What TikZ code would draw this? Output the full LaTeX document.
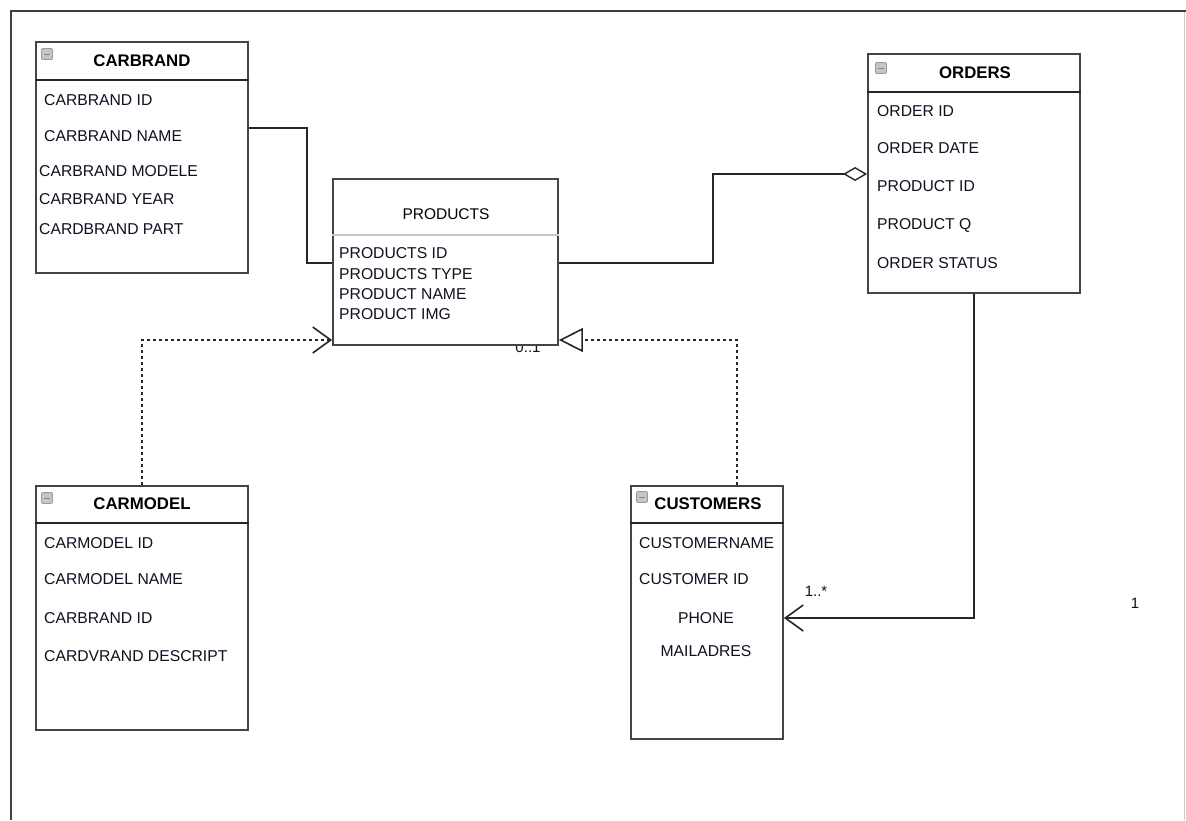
\documentclass[tikz,border=0pt]{standalone}
\usepackage{fontspec}
\setmainfont{Liberation Sans}
\usetikzlibrary{arrows.meta}
\definecolor{boxc}{HTML}{444444}
\definecolor{txt}{HTML}{101020}
\begin{document}
\begin{tikzpicture}[x=1pt,y=-1pt,
  ent/.style={draw=boxc, line width=1.8pt, fill=white, inner sep=0pt},
  attr/.style={anchor=west, inner sep=0pt, text=txt, font=\fontsize{15.7}{18}\selectfont},
  ttl/.style={inner sep=0pt, text=black, font=\bfseries\fontsize{16.8}{19}\selectfont},
  ptl/.style={inner sep=0pt, text=black, font=\fontsize{15.5}{18}\selectfont},
  icon/.style={draw=gray!80, fill=gray!45, minimum size=11pt, inner sep=0pt, rounded corners=1.2pt, line width=0.7pt},
  divider/.style={line width=1.6pt, draw=black!85},
  conn/.style={line width=1.6pt, draw=black!85},
  dots/.style={conn, dash pattern=on 3pt off 3pt},
  lbl/.style={inner sep=0pt, text=txt, font=\fontsize{15}{17}\selectfont}
]
\useasboundingbox (0,0) rectangle (1186,820);
\fill[white] (0,0) rectangle (1186,820);
% frame
\draw[gray!40, line width=1.5pt] (1184.5,11) -- (1184.5,820);
\draw[black!75, line width=2pt] (11,820) -- (11,11) -- (1186,11);

% labels under boxes
\node[lbl] (l01) at (528,347) {0..1};
\node[lbl] (l1s) at (816,591) {1..*};
\node[lbl] (lone) at (1135,603) {1};

% entities
\node[ent, minimum width=212pt, minimum height=231pt] (carbrand) at (142,157.5) {};
\node[ent, minimum width=225pt, minimum height=166pt] (products) at (445.5,262) {};
\node[ent, minimum width=212pt, minimum height=239pt] (orders) at (974,173.5) {};
\node[ent, minimum width=212pt, minimum height=244pt] (carmodel) at (142,608) {};
\node[ent, minimum width=152pt, minimum height=253pt] (customers) at (707,612.5) {};

% dividers
\draw[divider] (carbrand.west |- 0,80) -- (carbrand.east |- 0,80);
\draw[gray!45, line width=1.6pt] (products.west |- 0,235) -- (products.east |- 0,235);
\draw[divider] (orders.west |- 0,92) -- (orders.east |- 0,92);
\draw[divider] (carmodel.west |- 0,523) -- (carmodel.east |- 0,523);
\draw[divider] (customers.west |- 0,523) -- (customers.east |- 0,523);

% icons
\foreach \n/\x/\y in {icb/47/54, ior/881/68, icm/47/498, icu/642/497}{
  \node[icon] (\n) at (\x,\y) {};
  \draw[gray!95, line width=0.9pt] ([xshift=-3pt]\n.center) -- ([xshift=3pt]\n.center);
}

% titles
\node[ttl] (tcb) at (142,61) {CARBRAND};
\node[ptl] (tpr) at (446,214) {PRODUCTS};
\node[ttl] (tor) at (975,73) {ORDERS};
\node[ttl] (tcm) at (142,504) {CARMODEL};
\node[ttl] (tcu) at (708,504) {CUSTOMERS};

% attributes
\node[attr] (a1) at (44,100) {CARBRAND ID};
\node[attr] (a2) at (44,136) {CARBRAND NAME};
\node[attr] (a3) at (39,171) {CARBRAND MODELE};
\node[attr] (a4) at (39,199) {CARBRAND YEAR};
\node[attr] (a5) at (39,229) {CARDBRAND PART};

\node[attr] (p1) at (339,253) {PRODUCTS ID};
\node[attr] (p2) at (339,274) {PRODUCTS TYPE};
\node[attr] (p3) at (339,294) {PRODUCT NAME};
\node[attr] (p4) at (339,314) {PRODUCT IMG};

\node[attr] (o1) at (877,111) {ORDER ID};
\node[attr] (o2) at (877,148) {ORDER DATE};
\node[attr] (o3) at (877,186) {PRODUCT ID};
\node[attr] (o4) at (877,225) {PRODUCT Q};
\node[attr] (o5) at (877,263) {ORDER STATUS};

\node[attr] (m1) at (44,543) {CARMODEL ID};
\node[attr] (m2) at (44,579) {CARMODEL NAME};
\node[attr] (m3) at (44,618) {CARBRAND ID};
\node[attr] (m4) at (44,656) {CARDVRAND DESCRIPT};

\node[attr] (c1) at (639,543) {CUSTOMERNAME};
\node[attr] (c2) at (639,579) {CUSTOMER ID};
\node[attr, anchor=center] (c3) at (706,618) {PHONE};
\node[attr, anchor=center] (c4) at (706,651) {MAILADRES};

% connectors
\draw[conn] (carbrand.east |- 0,128) -- (307,128) -- (307,263) -- (products.west |- 0,263);
\draw[conn, -{Diamond[open, length=24pt, width=14pt, line width=1.4pt]}]
  (products.east |- 0,263) -- (713,263) -- (713,174) -- (orders.west |- 0,174);
\draw[dots, -{Straight Barb[length=18pt, width=26pt, line width=1.6pt]}]
  (carmodel.north) -- (142,340) -- (products.west |- 0,340);
\draw[dots, -{Triangle[open, length=24pt, width=24pt, line width=1.6pt, fill=white]}]
  (customers.north -| 737,0) -- (737,340) -- (products.east |- 0,340);
\draw[conn, -{Straight Barb[length=18pt, width=26pt, line width=1.6pt]}]
  (orders.south) -- (974,618) -- (customers.east |- 0,618);
\end{tikzpicture}
\end{document}
